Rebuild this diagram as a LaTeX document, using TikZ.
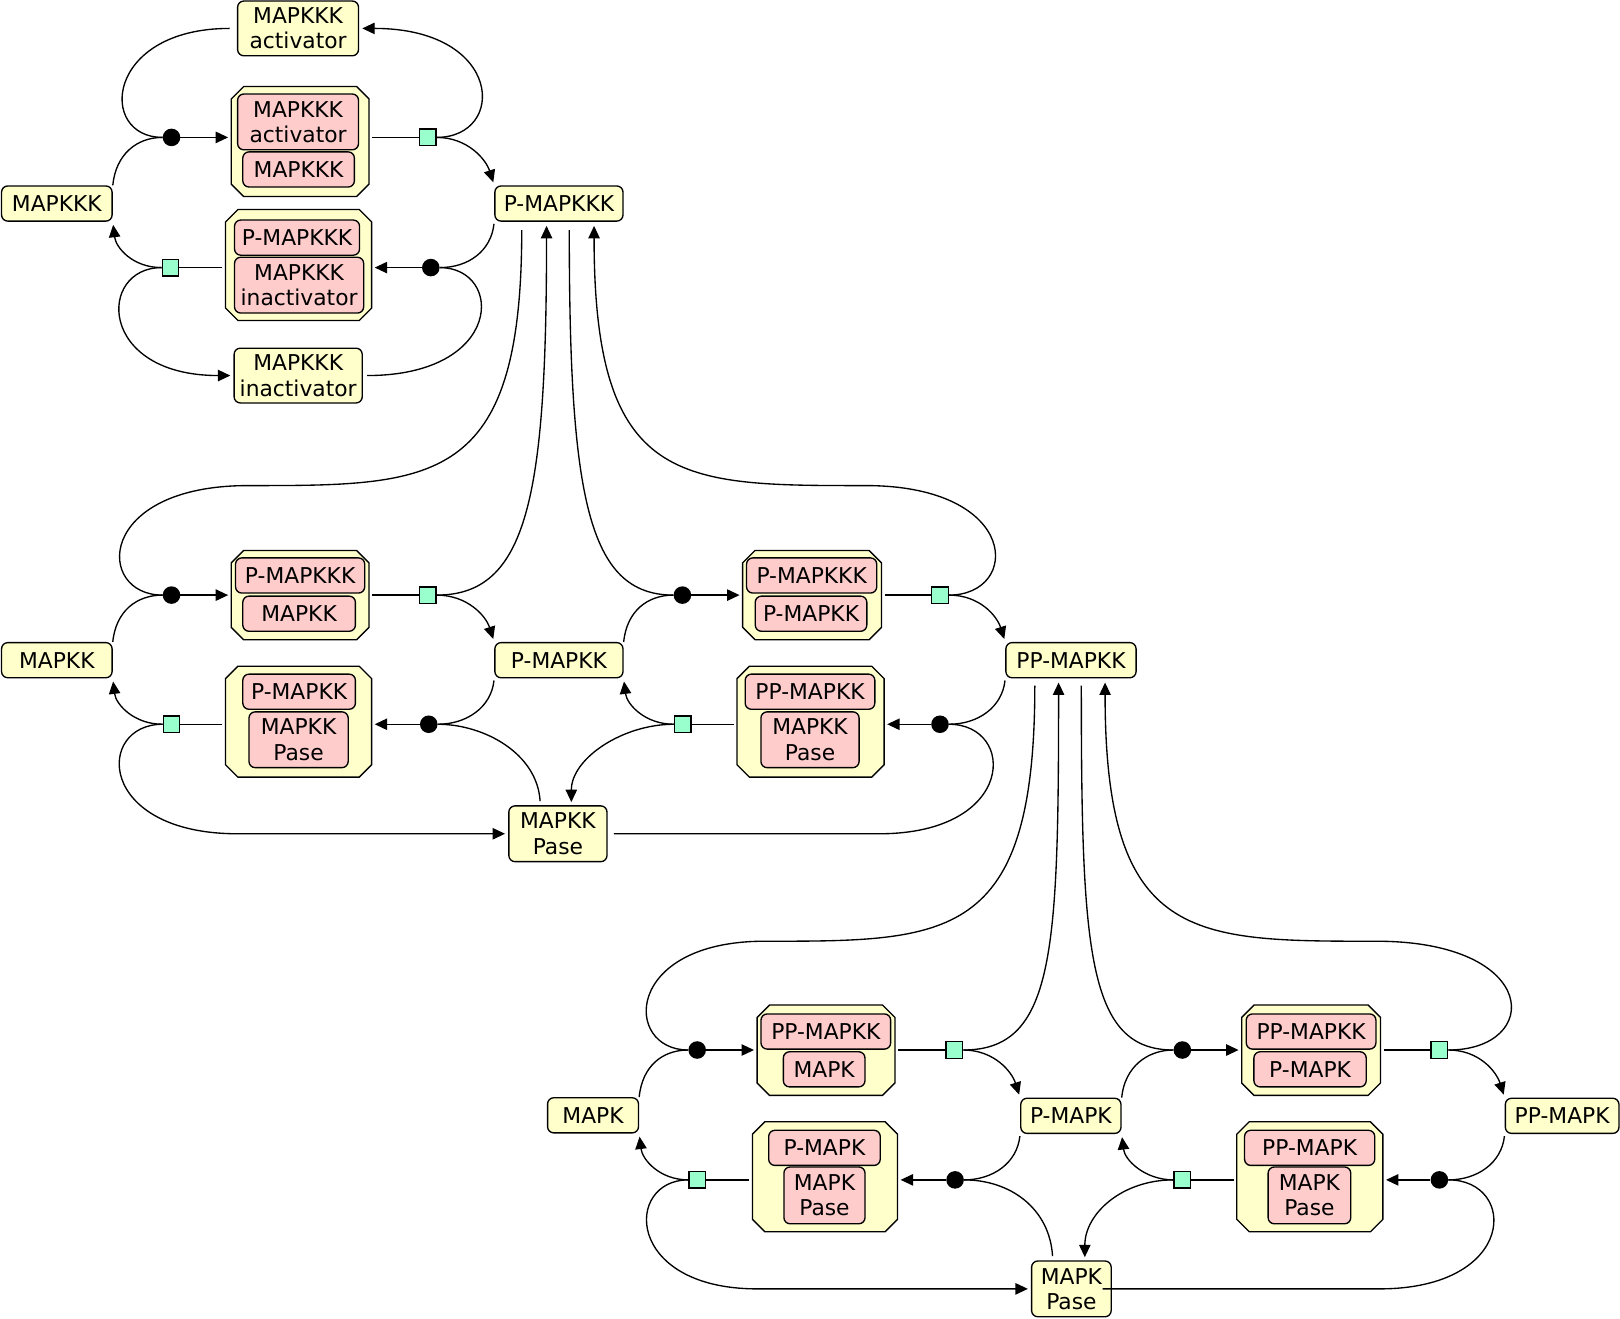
\documentclass[tikz,border=0pt]{standalone}
\usepackage{fontspec}
\setmainfont{DejaVu Sans}
\usetikzlibrary{arrows.meta}
\definecolor{speciesfill}{RGB}{255,255,204}
\definecolor{memberfill}{RGB}{255,204,204}
\definecolor{procfill}{RGB}{153,255,204}
\tikzset{
  species/.style={draw,line width=1.3pt,rounded corners=6pt,fill=speciesfill,align=center,inner sep=2pt,minimum height=34pt},
  member/.style={species,fill=memberfill},
  complexbox/.style={rectangle,inner sep=0pt},
  cxline/.style={draw,line width=1.3pt,fill=speciesfill},
  assoc/.style={circle,fill=black,minimum size=17pt,inner sep=0pt},
  procbox/.style={rectangle,draw,line width=1.3pt,fill=procfill,minimum size=16pt,inner sep=0pt},
  link/.style={line width=1.3pt},
  prod/.style={link,-{Triangle[length=12pt,width=11pt]},shorten >=3pt}
}
\newcommand{\cxframe}[1]{%
  \draw[cxline] ([shift={(12,0)}]#1.north west) -- ([shift={(-12,0)}]#1.north east) -- ([shift={(0,12)}]#1.north east)
    -- ([shift={(0,-12)}]#1.south east) -- ([shift={(-12,0)}]#1.south east) -- ([shift={(12,0)}]#1.south west)
    -- ([shift={(0,-12)}]#1.south west) -- ([shift={(0,12)}]#1.north west) -- cycle;}
\begin{document}
\begin{tikzpicture}[x=1pt,y=-1pt,font=\fontsize{21.1}{24.5}\selectfont]
  \useasboundingbox (0,0) rectangle (1568,1276);
  % MAPKKK cycle
  \node[species,minimum width=107pt] (K3) at (55,197) {MAPKKK};
  \node[species,minimum width=117pt,minimum height=53pt] (K3act) at (288.5,27.5) {MAPKKK\\activator};
  \node[species,minimum width=124pt,minimum height=53pt] (K3inact) at (288.6,363.5) {MAPKKK\\inactivator};
  \node[species,minimum width=124pt] (pK3) at (541,197) {P-MAPKKK};
  \node[complexbox,minimum width=133pt,minimum height=106pt] (cx1) at (290.5,137) {};
  \cxframe{cx1}
  \node[member,minimum width=117pt,minimum height=54pt] (cx1a) at (288.5,118) {MAPKKK\\activator};
  \node[member,minimum width=108pt] (cx1b) at (289,164) {MAPKKK};
  \node[complexbox,minimum width=141pt,minimum height=107pt] (cx2) at (289,256.5) {};
  \cxframe{cx2}
  \node[member,minimum width=121pt] (cx2a) at (287.5,230) {P-MAPKKK};
  \node[member,minimum width=125pt,minimum height=54pt] (cx2b) at (289.5,276) {MAPKKK\\inactivator};
  \node[assoc] (a1) at (166,133) {};
  \node[procbox] (p1) at (414,133) {};
  \node[assoc] (a2) at (417,259) {};
  \node[procbox] (p2) at (165,259) {};

  \draw[link] (K3.north east) .. controls +(3,-30) and +(-25,0) .. (a1.west);
  \draw[link,shorten <=7pt] (K3act.west) .. controls +(-128,0) and +(-63,0) .. (a1.west);
  \draw[prod] (a1.east) -- (a1 -| cx1.west);
  \draw[link,shorten <=3pt] (cx1.east |- p1) -- (p1.west);
  \draw[prod] (p1.east) .. controls +(30,0) and +(-8,-25) .. (pK3.north west);
  \draw[prod] (p1.east) .. controls +(68,0) and +(140,0) .. (K3act.east);
  \draw[link,shorten <=2pt] (pK3.south west) .. controls +(-3,28) and +(28,0) .. (a2.east);
  \draw[link,shorten <=4pt] (K3inact.east) .. controls +(137,0) and +(62,0) .. (a2.east);
  \draw[prod] (a2.west) -- (a2 -| cx2.east);
  \draw[link,shorten <=3pt] (cx2.west |- p2) -- (p2.east);
  \draw[prod] (p2.west) .. controls +(-28,0) and +(3,25) .. (K3.south east);
  \draw[prod] (p2.west) .. controls +(-62,0) and +(-132,0) .. (K3inact.west);

  % MAPKK cycle
  \node[species,minimum width=107pt] (K2) at (55,639) {MAPKK};
  \node[species,minimum width=124pt] (pK2) at (541,639) {P-MAPKK};
  \node[species,minimum width=126pt] (ppK2) at (1036.6,639) {PP-MAPKK};
  \node[species,minimum width=95pt,minimum height=54pt] (K2pase) at (540,807) {MAPKK\\Pase};
  \node[complexbox,minimum width=133pt,minimum height=86pt] (cx3) at (290.5,576) {};
  \cxframe{cx3}
  \node[member,minimum width=125pt] (cx3a) at (290.5,557) {P-MAPKKK};
  \node[member,minimum width=109pt] (cx3b) at (289.5,594) {MAPKK};
  \node[complexbox,minimum width=141pt,minimum height=107pt] (cx4) at (289,698.5) {};
  \cxframe{cx4}
  \node[member,minimum width=109pt] (cx4a) at (289.5,669.5) {P-MAPKK};
  \node[member,minimum width=96pt,minimum height=54pt] (cx4b) at (289,716) {MAPKK\\Pase};
  \node[complexbox,minimum width=134pt,minimum height=86pt] (cx5) at (786,576) {};
  \cxframe{cx5}
  \node[member,minimum width=126pt] (cx5a) at (785.6,557) {P-MAPKKK};
  \node[member,minimum width=108pt] (cx5b) at (785,594) {P-MAPKK};
  \node[complexbox,minimum width=142pt,minimum height=107pt] (cx6) at (784.5,698.5) {};
  \cxframe{cx6}
  \node[member,minimum width=125.5pt] (cx6a) at (784,669.5) {PP-MAPKK};
  \node[member,minimum width=95pt,minimum height=54pt] (cx6b) at (784,716) {MAPKK\\Pase};
  \node[assoc] (a3) at (166,576) {};
  \node[procbox] (p3) at (414,576) {};
  \node[assoc] (a4) at (415,701) {};
  \node[procbox] (p4) at (166,701) {};
  \node[assoc] (a5) at (660.5,576) {};
  \node[procbox] (p5) at (909.8,576) {};
  \node[assoc] (a6) at (909.8,701) {};
  \node[procbox] (p6) at (660.8,701) {};
  \coordinate (bend3) at (240,470);
  \coordinate (bend4) at (230,807);
  \coordinate (bend5) at (838,470);
  \coordinate (bend6) at (851,807);

  \draw[link] (K2.north east) .. controls +(3,-30) and +(-25,0) .. (a3.west);
  \draw[link] ([shift={(-36,8)}]pK3.south) .. controls +(0,248) and +(180,0) .. (bend3) .. controls +(-148,0) and +(-65,0) .. (a3.west);
  \draw[prod] (a3.east) -- (a3 -| cx3.west);
  \draw[link,shorten <=3pt] (cx3.east |- p3) -- (p3.west);
  \draw[prod] (p3.east) .. controls +(30,0) and +(-8,-25) .. (pK2.north west);
  \draw[prod] (p3.east) .. controls +(88,0) and +(0,265) .. ([shift={(-12,1)}]pK3.south);
  \draw[link,shorten <=2pt] (pK2.south west) .. controls +(-3,28) and +(28,0) .. (a4.east);
  \draw[link,shorten <=4pt] ([xshift=-17pt]K2pase.north) .. controls +(-3,-50) and +(45,0) .. (a4.east);
  \draw[prod] (a4.west) -- (a4 -| cx4.east);
  \draw[link,shorten <=3pt] (cx4.west |- p4) -- (p4.east);
  \draw[prod] (p4.west) .. controls +(-28,0) and +(3,25) .. (K2.south east);
  \draw[prod] (p4.west) .. controls +(-65,0) and +(-137,0) .. (bend4) -- (K2pase.west);
  \draw[link] (pK2.north east) .. controls +(3,-30) and +(-25,0) .. (a5.west);
  \draw[link] ([shift={(10,8)}]pK3.south) .. controls +(0,258) and +(-83,0) .. (a5.west);
  \draw[prod] (a5.east) -- (a5 -| cx5.west);
  \draw[link,shorten <=3pt] (cx5.east |- p5) -- (p5.west);
  \draw[prod] (p5.east) .. controls +(30,0) and +(-8,-25) .. (ppK2.north west);
  \draw[prod] (p5.east) .. controls +(70,0) and +(150,0) .. (bend5) .. controls +(-180,0) and +(0,255) .. ([shift={(34,1)}]pK3.south);
  \draw[link,shorten <=2pt] (ppK2.south west) .. controls +(-3,28) and +(28,0) .. (a6.east);
  \draw[link,shorten <=6pt] (K2pase.east) -- (bend6) .. controls +(133,0) and +(65.5,0) .. (a6.east);
  \draw[prod] (a6.west) -- (a6 -| cx6.east);
  \draw[link,shorten <=3pt] (cx6.west |- p6) -- (p6.east);
  \draw[prod] (p6.west) .. controls +(-28,0) and +(3,25) .. (pK2.south east);
  \draw[prod] (p6.west) .. controls +(-50,0) and +(0,-45) .. ([xshift=13pt]K2pase.north);

  % MAPK cycle
  \node[species,minimum width=88pt] (K1) at (574,1079.5) {MAPK};
  \node[species,minimum width=97pt] (pK1) at (1036.5,1080) {P-MAPK};
  \node[species,minimum width=110pt] (ppK1) at (1512,1080) {PP-MAPK};
  \node[species,minimum width=77pt,minimum height=54pt] (K1pase) at (1037,1247.5) {MAPK\\Pase};
  \node[complexbox,minimum width=133pt,minimum height=87pt] (cx7) at (799.5,1016.5) {};
  \cxframe{cx7}
  \node[member,minimum width=125.5pt] (cx7a) at (799.3,998.4) {PP-MAPKK};
  \node[member,minimum width=79pt] (cx7b) at (797.7,1035) {MAPK};
  \node[complexbox,minimum width=140pt,minimum height=106pt] (cx8) at (798.5,1139) {};
  \cxframe{cx8}
  \node[member,minimum width=108pt] (cx8a) at (798,1111) {P-MAPK};
  \node[member,minimum width=78.5pt,minimum height=55pt] (cx8b) at (798,1157) {MAPK\\Pase};
  \node[complexbox,minimum width=134pt,minimum height=87pt] (cx9) at (1269,1016.5) {};
  \cxframe{cx9}
  \node[member,minimum width=125.5pt] (cx9a) at (1269,998.4) {PP-MAPKK};
  \node[member,minimum width=108.7pt] (cx9b) at (1268,1035) {P-MAPK};
  \node[complexbox,minimum width=141pt,minimum height=106pt] (cx10) at (1267.8,1139) {};
  \cxframe{cx10}
  \node[member,minimum width=126pt] (cx10a) at (1267.6,1111) {PP-MAPK};
  \node[member,minimum width=80pt,minimum height=55pt] (cx10b) at (1267.4,1157) {MAPK\\Pase};
  \node[assoc] (a7) at (674.8,1016.3) {};
  \node[procbox] (p7) at (923.7,1016.3) {};
  \node[assoc] (a8) at (924.4,1142) {};
  \node[procbox] (p8) at (674.8,1142) {};
  \node[assoc] (a9) at (1144.4,1016.3) {};
  \node[procbox] (p9) at (1393.2,1016.3) {};
  \node[assoc] (a10) at (1393.2,1142) {};
  \node[procbox] (p10) at (1144.4,1142) {};
  \coordinate (bend7) at (740,911);
  \coordinate (bend8) at (733,1247.5);
  \coordinate (bend9) at (1332,911);
  \coordinate (bend10) at (1335,1247.5);

  \draw[link] (K1.north east) .. controls +(3,-30) and +(-25,0) .. (a7.west);
  \draw[link] ([shift={(-35,7)}]ppK2.south) .. controls +(0,248) and +(178,0) .. (bend7) .. controls +(-137,0) and +(-63,0) .. (a7.west);
  \draw[prod] (a7.east) -- (a7 -| cx7.west);
  \draw[link,shorten <=3pt] (cx7.east |- p7) -- (p7.west);
  \draw[prod] (p7.east) .. controls +(30,0) and +(-8,-25) .. (pK1.north west);
  \draw[prod] (p7.east) .. controls +(88,0) and +(0,265) .. ([shift={(-12,1)}]ppK2.south);
  \draw[link,shorten <=2pt] (pK1.south west) .. controls +(-3,28) and +(28,0) .. (a8.east);
  \draw[link,shorten <=4pt] ([xshift=-18pt]K1pase.north) .. controls +(-3,-50) and +(45,0) .. (a8.east);
  \draw[prod] (a8.west) -- (a8 -| cx8.east);
  \draw[link,shorten <=3pt] (cx8.west |- p8) -- (p8.east);
  \draw[prod] (p8.west) .. controls +(-62,0) and +(-129,0) .. (bend8) -- (K1pase.west);
  \draw[prod] (p8.west) .. controls +(-28,0) and +(3,25) .. (K1.south east);
  \draw[link] (pK1.north east) .. controls +(3,-30) and +(-25,0) .. (a9.west);
  \draw[link] ([shift={(10,7)}]ppK2.south) .. controls +(0,258) and +(-83,0) .. (a9.west);
  \draw[prod] (a9.east) -- (a9 -| cx9.west);
  \draw[link,shorten <=3pt] (cx9.east |- p9) -- (p9.west);
  \draw[prod] (p9.east) .. controls +(30,0) and +(-8,-25) .. (ppK1.north west);
  \draw[prod] (p9.east) .. controls +(91,0) and +(160,0) .. (bend9) .. controls +(-178,0) and +(0,254) .. ([shift={(33,1)}]ppK2.south);
  \draw[link,shorten <=2pt] (ppK1.south west) .. controls +(-3,28) and +(28,0) .. (a10.east);
  \draw[link] ([xshift=-9pt]K1pase.east) -- (bend10) .. controls +(134,0) and +(67,0) .. (a10.east);
  \draw[prod] (a10.west) -- (a10 -| cx10.east);
  \draw[link,shorten <=3pt] (cx10.west |- p10) -- (p10.east);
  \draw[prod] (p10.west) .. controls +(-28,0) and +(3,25) .. (pK1.south east);
  \draw[prod] (p10.west) .. controls +(-50,0) and +(0,-45) .. ([xshift=13pt]K1pase.north);
\end{tikzpicture}
\end{document}
